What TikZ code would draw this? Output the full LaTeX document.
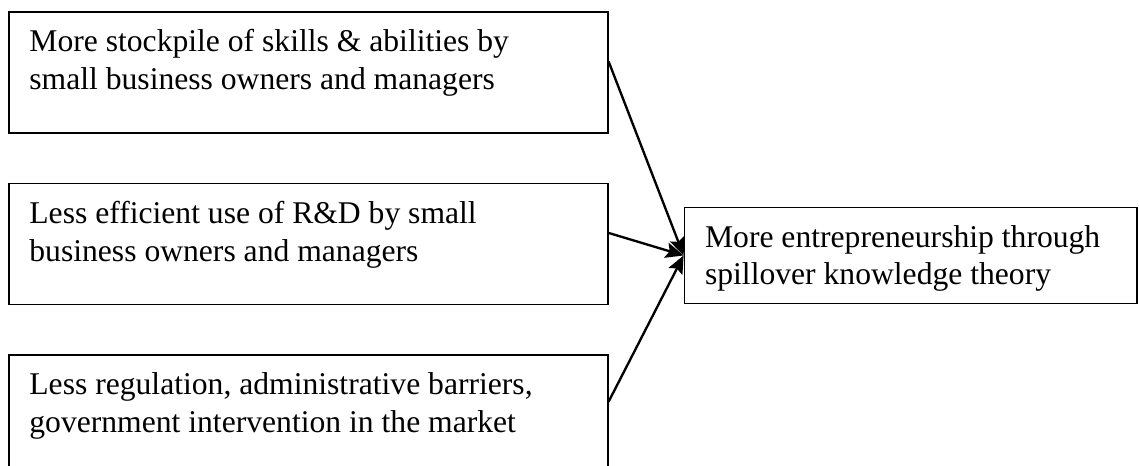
\documentclass[tikz,border=0pt]{standalone}
\usepackage{fontspec}
\setmainfont{Liberation Serif}
\usetikzlibrary{arrows.meta,positioning}

\newcommand{\causetext}[1]{\parbox[c][31.2pt][t]{202.8pt}{#1}}
\newcommand{\effecttext}[1]{\parbox[c][22.1pt][t]{149.6pt}{#1}}

\begin{document}
\begin{tikzpicture}[>={Stealth[length=6.5pt,width=5.6pt,inset=1.2pt]},node distance=17.8pt,
    every node/.style={font=\fontsize{11.5pt}{13.8pt}\selectfont},
    cause/.style={draw,line width=0.6pt,inner xsep=7.5pt,inner ysep=6.4pt},
    effect/.style={draw,line width=0.6pt,inner xsep=7.5pt,inner ysep=6.4pt},
    link/.style={->,line width=0.85pt}]
    \useasboundingbox (0,0) rectangle (414.2pt,-169.1pt);
    \clip (0,0) rectangle (414.2pt,-169.1pt);

    \node[cause,anchor=north west] (skills) at (2.9pt,-4pt)
        {\causetext{More stockpile of skills \& abilities by\\small business owners and managers}};
    \node[cause] (rnd) [below=of skills]
        {\causetext{Less efficient use of R\&D by small\\business owners and managers}};
    \node[cause] (policy) [below=of rnd]
        {\causetext{Less regulation, administrative barriers,\\government intervention in the market}};
    \node[effect] (spill) [right=27.3pt of rnd,yshift=-4.2pt]
        {\effecttext{More entrepreneurship through\\spillover knowledge theory}};

    \draw[link] ([yshift=4pt]skills.east) -- (spill.west);
    \draw[link] ([yshift=4pt]rnd.east) -- (spill.west);
    \draw[link] ([yshift=5pt]policy.east) -- (spill.west);
\end{tikzpicture}
\end{document}
